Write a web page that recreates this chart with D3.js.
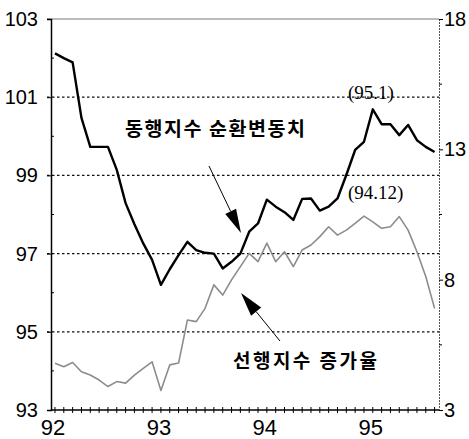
<!DOCTYPE html>
<html>
<head>
<meta charset="utf-8">
<script src="https://cdn.jsdelivr.net/npm/d3@7"></script>
<style>
  html, body { margin: 0; padding: 0; background: #fff; }
  svg { display: block; }
</style>
</head>
<body>
<svg id="chart" width="469" height="439"></svg>
<script>
// ---- data ----
const yearLabels = ["92", "93", "94", "95"];
const yearStartIndex = [0, 12, 24, 36];
const monthCount = 44; // 92.1 ~ 95.8
const months = [];
for (let y = 92; y <= 95; y++) for (let m = 1; m <= 12; m++) if (months.length < monthCount) months.push(y + "." + m);

// 동행지수 순환변동치 (left axis)
const coincident = [
  102.12, 102.0, 101.89, 100.47, 99.73, 99.73, 99.73, 99.14, 98.29, 97.75, 97.26, 96.84,
  96.2, 96.6, 96.96, 97.3, 97.09, 97.02, 97.0, 96.62, 96.79, 97.0, 97.56, 97.77,
  98.38, 98.2, 98.06, 97.86, 98.4, 98.41, 98.1, 98.2, 98.41, 99.01, 99.65, 99.86,
  100.69, 100.31, 100.31, 100.03, 100.29, 99.9, 99.73, 99.6
];
// 선행지수 증가율 (right axis)
const leading = [
  4.79, 4.66, 4.82, 4.47, 4.34, 4.15, 3.9, 4.09, 4.03, 4.34, 4.6, 4.85,
  3.75, 4.73, 4.8, 6.45, 6.39, 6.9, 7.8, 7.41, 7.99, 8.5, 9.01, 8.69,
  9.4, 8.69, 9.07, 8.5, 9.14, 9.33, 9.65, 10.03, 9.71, 9.9, 10.16, 10.44,
  10.22, 9.97, 10.03, 10.42, 9.9, 9.07, 8.12, 6.9
];
const leftTicks = [93, 95, 97, 99, 101, 103];
const leftMinor = [94, 96, 98, 100, 102];
const rightTicks = [3, 8, 13, 18];
const rightMinor = [5.5, 10.5, 15.5];
const labelCoincident = "동행지수 순환변동치";
const labelLeading = "선행지수 증가율";
const peakCoincident = "(95.1)";
const peakLeading = "(94.12)";

// ---- layout ----
const L = 51, R = 439, T = 19, B = 410;
const svg = d3.select("#chart");
const x = d3.scaleLinear().domain([-0.45, 43.5]).range([L, R]);
const yL = d3.scaleLinear().domain([93, 103]).range([B, T]);
const yR = d3.scaleLinear().domain([3, 18]).range([B, T]);
const numFont = "'Liberation Sans Narrow', 'Arial Narrow', 'Liberation Sans', Arial, sans-serif";
const krFont = "'Noto Sans CJK KR', 'Noto Sans', sans-serif";
const serifFont = "'Liberation Serif', 'Times New Roman', serif";

// gridlines (dotted)
svg.append("g").selectAll("line").data([95, 97, 99, 101]).join("line")
  .attr("x1", L - 4).attr("x2", R).attr("y1", d => yL(d)).attr("y2", d => yL(d))
  .attr("stroke", "#111").attr("stroke-width", 1.2).attr("stroke-dasharray", "2.5,2.5");
// top border
svg.append("line").attr("x1", L - 4).attr("x2", R).attr("y1", T).attr("y2", T)
  .attr("stroke", "#777").attr("stroke-width", 1);

// left axis
const leftAxis = d3.axisLeft(yL).tickValues(leftTicks).tickSize(4).tickFormat(d3.format("d"));
const gL = svg.append("g").attr("transform", `translate(${L},0)`).call(leftAxis);
gL.select(".domain").attr("stroke", "#000").attr("stroke-width", 1.5);
gL.selectAll(".tick line").attr("stroke", "#000");
gL.selectAll(".tick text").attr("font-family", numFont).attr("font-size", 20)
  .attr("fill", "#000").attr("x", -13);
svg.append("g").selectAll("line").data(leftMinor).join("line")
  .attr("x1", L).attr("x2", L + 3).attr("y1", d => yL(d)).attr("y2", d => yL(d))
  .attr("stroke", "#000").attr("stroke-width", 1);

// right axis
const rightAxis = d3.axisRight(yR).tickValues(rightTicks).tickSize(4).tickFormat(d3.format("d"));
const gR = svg.append("g").attr("transform", `translate(${R},0)`).call(rightAxis);
gR.select(".domain").attr("stroke", "#555").attr("stroke-width", 1).attr("stroke-dasharray", "2,1");
gR.selectAll(".tick line").attr("stroke", "#000");
gR.selectAll(".tick text").attr("font-family", numFont).attr("font-size", 20)
  .attr("fill", "#000").attr("x", 5);
svg.append("g").selectAll("line").data(rightMinor).join("line")
  .attr("x1", R).attr("x2", R + 3).attr("y1", d => yR(d)).attr("y2", d => yR(d))
  .attr("stroke", "#000").attr("stroke-width", 1);

// bottom axis
const monthIdx = d3.range(monthCount);
svg.append("line").attr("x1", L).attr("x2", R).attr("y1", B).attr("y2", B)
  .attr("stroke", "#000").attr("stroke-width", 1.5);
svg.append("g").selectAll("line").data(monthIdx).join("line")
  .attr("x1", d => x(d)).attr("x2", d => x(d)).attr("y1", B - 3).attr("y2", B + 3)
  .attr("stroke", "#000").attr("stroke-width", 1);
svg.append("g").selectAll("text").data(yearLabels).join("text")
  .attr("x", (d, i) => x(yearStartIndex[i]) - 2).attr("y", 435)
  .attr("text-anchor", "middle").attr("font-family", numFont).attr("font-size", 22)
  .attr("fill", "#000").text(d => d);

// lines
const lineL = d3.line().x((d, i) => x(i)).y(d => yL(d));
const lineR = d3.line().x((d, i) => x(i)).y(d => yR(d));
svg.append("path").datum(leading).attr("d", lineR).attr("fill", "none")
  .attr("stroke", "#8c8c8c").attr("stroke-width", 1.6).attr("stroke-linejoin", "round");
svg.append("path").datum(coincident).attr("d", lineL).attr("fill", "none")
  .attr("stroke", "#000").attr("stroke-width", 2.4).attr("stroke-linejoin", "round");

// labels
svg.append("text").attr("x", 125).attr("y", 136).attr("font-family", krFont)
  .attr("font-size", 19.5).attr("font-weight", 700).attr("fill", "#000")
  .attr("textLength", 180).attr("lengthAdjust", "spacing").text(labelCoincident);
svg.append("text").attr("x", 233).attr("y", 368).attr("font-family", krFont)
  .attr("font-size", 19).attr("font-weight", 700).attr("fill", "#000")
  .attr("textLength", 144).attr("lengthAdjust", "spacing").text(labelLeading);
svg.append("text").attr("x", 348).attr("y", 99).attr("font-family", serifFont)
  .attr("font-size", 19).attr("fill", "#000").text(peakCoincident);
svg.append("text").attr("x", 348).attr("y", 199).attr("font-family", serifFont)
  .attr("font-size", 19).attr("fill", "#000").text(peakLeading);

// arrows
function arrow(x0, y0, x1, y1, headLen, headW) {
  const dx = x1 - x0, dy = y1 - y0, len = Math.hypot(dx, dy);
  const ux = dx / len, uy = dy / len;
  const bx = x1 - ux * headLen, by = y1 - uy * headLen;
  svg.append("line").attr("x1", x0).attr("y1", y0).attr("x2", bx).attr("y2", by)
    .attr("stroke", "#000").attr("stroke-width", 1);
  const px = -uy * headW / 2, py = ux * headW / 2;
  svg.append("path").attr("d", `M${x1},${y1}L${bx + px},${by + py}L${bx - px},${by - py}Z`)
    .attr("fill", "#000");
}
arrow(209, 166, 241, 233, 24, 12);
arrow(280, 341, 241, 293, 24, 13);
</script>
</body>
</html>
